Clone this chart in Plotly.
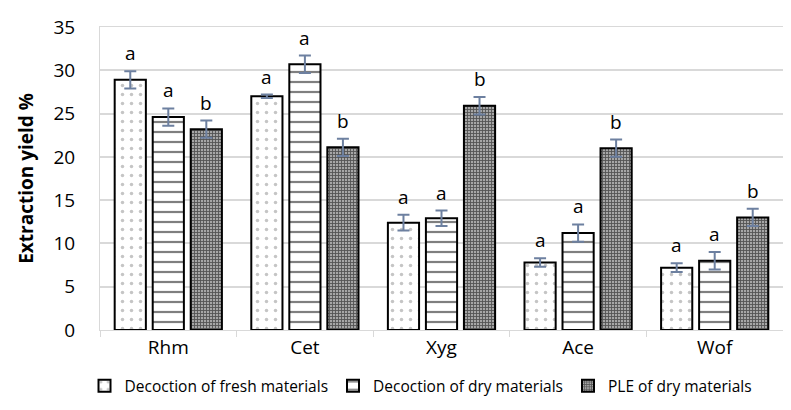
import plotly.graph_objects as go

categories = ["Rhm", "Cet", "Xyg", "Ace", "Wof"]
series_names = ["Decoction of fresh materials", "Decoction of dry materials", "PLE of dry materials"]

fresh = [28.9, 27.0, 12.4, 7.8, 7.2]
dry = [24.6, 30.7, 12.9, 11.2, 8.0]
ple = [23.2, 21.1, 25.9, 21.0, 13.0]

fresh_err = [1.0, 0.2, 0.9, 0.5, 0.5]
dry_err = [1.0, 1.0, 0.9, 1.0, 1.0]
ple_err = [1.0, 1.0, 1.0, 1.0, 1.0]

fresh_letters = ["a", "a", "a", "a", "a"]
dry_letters = ["a", "a", "a", "a", "a"]
ple_letters = ["b", "b", "b", "b", "b"]

_FONT = "'Open Sans', sans-serif"
ERR_COLOR = "#6d80a0"
GRID = "#d9d9d9"

patterns = [
    dict(shape=".", fgcolor="#8c8c8c", bgcolor="white", size=9, solidity=0.12),
    dict(shape="-", fgcolor="black", bgcolor="white", size=10, solidity=0.22),
    dict(shape="+", fgcolor="black", bgcolor="#a6a6a6", size=3, solidity=0.5),
]

values = [fresh, dry, ple]
errors = [fresh_err, dry_err, ple_err]
letters = [fresh_letters, dry_letters, ple_letters]

fig = go.Figure()
for name, vals, errs, pat in zip(series_names, values, errors, patterns):
    fig.add_trace(
        go.Bar(
            x=categories, y=vals, name=name,
            marker=dict(color="white", line=dict(color="black", width=2), pattern=pat),
            error_y=dict(type="data", array=errs, color=ERR_COLOR, thickness=2, width=6),
        )
    )

# significance letters above each error bar; offsets follow the grouped bar slots
slot_px = 38
for i, (vals, errs, labs) in enumerate(zip(values, errors, letters)):
    for cat, v, e, lab in zip(categories, vals, errs, labs):
        fig.add_annotation(
            x=cat, y=v + e, text=lab, showarrow=False,
            xref="x", yref="y", yanchor="bottom", yshift=3,
            xshift=(i - 1) * slot_px,
            font=dict(family=_FONT, size=19, color="black"),
        )

fig.update_layout(
    width=791, height=410,
    paper_bgcolor="white", plot_bgcolor="white",
    font=dict(family=_FONT, color="black", size=19),
    margin=dict(l=92, r=16, t=19, b=88, autoexpand=False),
    barmode="group", bargap=0.165, bargroupgap=0.18,
    showlegend=True,
    legend=dict(
        orientation="h", x=0.47, xanchor="center", y=-0.185, yanchor="middle",
        font=dict(family=_FONT, size=15.5, color="black"),
        itemwidth=30, tracegroupgap=0,
    ),
)
fig.update_xaxes(
    automargin=False,
    showgrid=False, showline=True, mirror=True, linecolor=GRID, linewidth=1,
    ticks="outside", tickson="boundaries", ticklen=6, tickcolor=GRID,
    tickfont=dict(size=19),
)
fig.update_yaxes(
    automargin=False,
    range=[0, 35], dtick=5, showgrid=True, gridcolor=GRID, gridwidth=1.5,
    showline=True, mirror=True, linecolor=GRID, zeroline=False,
    tickfont=dict(size=19), ticklabelstandoff=20,
    title=dict(text="<b>Extraction yield %</b>", font=dict(size=19), standoff=14),
)

fig.write_html("out.html")
